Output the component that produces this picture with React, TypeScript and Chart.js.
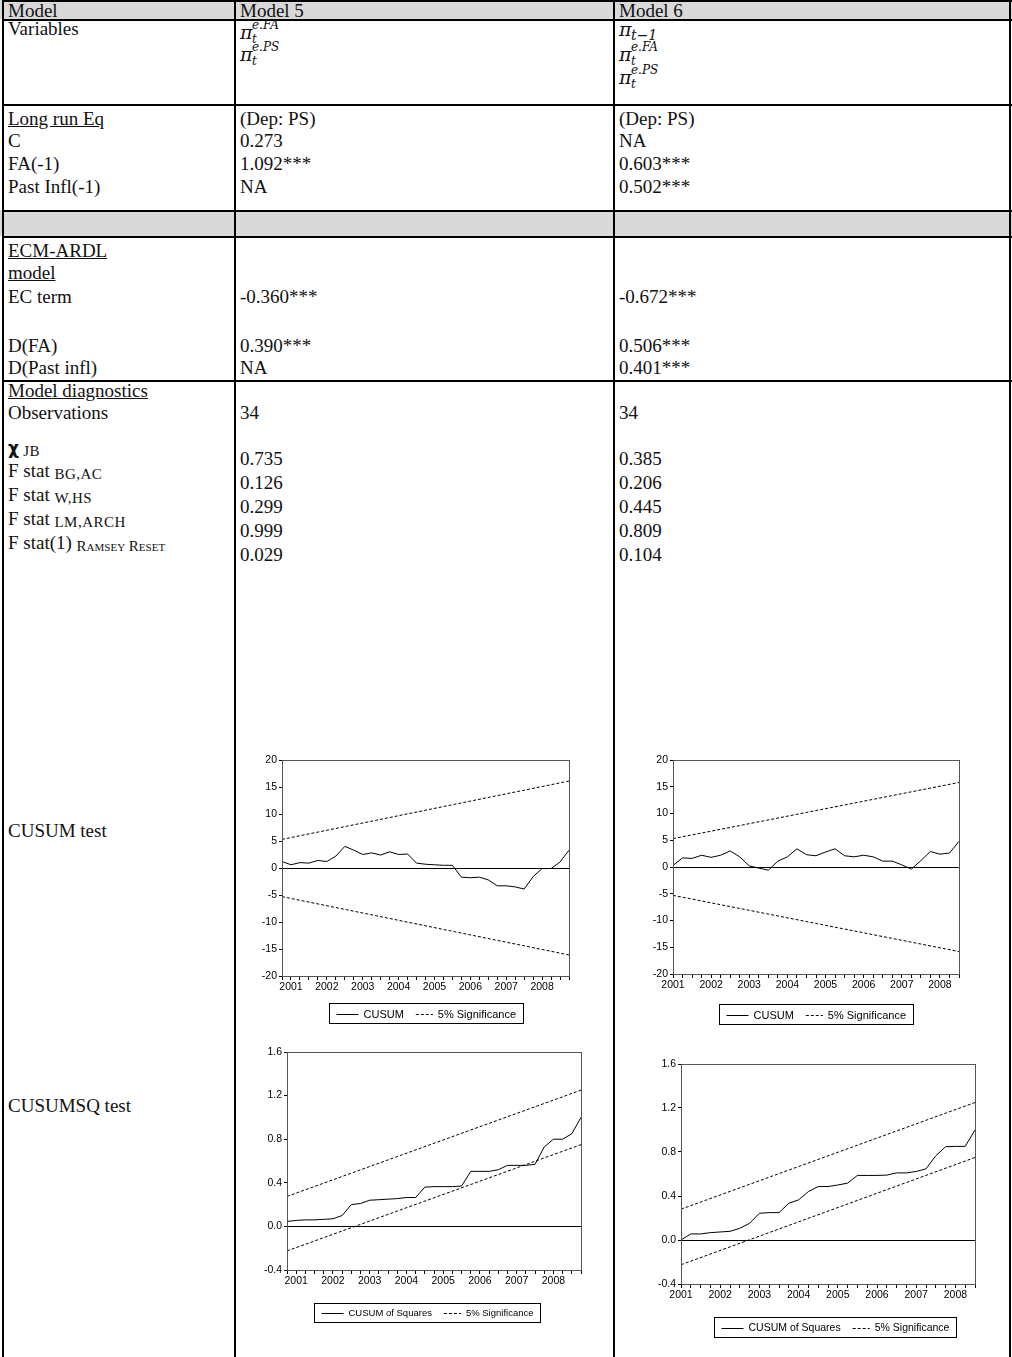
import React, { useEffect, useRef } from 'react';
import { Chart, registerables } from 'chart.js';

Chart.register(...registerables);

// ---------------- table data ----------------
const headerCells = ['Model', 'Model 5', 'Model 6'];
const longRunLabels = ['C', 'FA(-1)', 'Past Infl(-1)'];
const longRunM5 = ['0.273', '1.092***', 'NA'];
const longRunM6 = ['NA', '0.603***', '0.502***'];
const ecmLabels = ['EC term', 'D(FA)', 'D(Past infl)'];
const ecmM5 = ['-0.360***', '0.390***', 'NA'];
const ecmM6 = ['-0.672***', '0.506***', '0.401***'];
const observations = ['34', '34'];
const diagSubs = ['BG,AC', 'W,HS', 'LM,ARCH'];
const diagM5 = ['0.735', '0.126', '0.299', '0.999', '0.029'];
const diagM6 = ['0.385', '0.206', '0.445', '0.809', '0.104'];

// ---------------- chart data ----------------
const quartersM5 = [
  '2000Q4',
  '2001Q1', '2001Q2', '2001Q3', '2001Q4',
  '2002Q1', '2002Q2', '2002Q3', '2002Q4',
  '2003Q1', '2003Q2', '2003Q3', '2003Q4',
  '2004Q1', '2004Q2', '2004Q3', '2004Q4',
  '2005Q1', '2005Q2', '2005Q3', '2005Q4',
  '2006Q1', '2006Q2', '2006Q3', '2006Q4',
  '2007Q1', '2007Q2', '2007Q3', '2007Q4',
  '2008Q1', '2008Q2', '2008Q3', '2008Q4',
];
const quartersM6 = [
  '2001Q1', '2001Q2', '2001Q3', '2001Q4',
  '2002Q1', '2002Q2', '2002Q3', '2002Q4',
  '2003Q1', '2003Q2', '2003Q3', '2003Q4',
  '2004Q1', '2004Q2', '2004Q3', '2004Q4',
  '2005Q1', '2005Q2', '2005Q3', '2005Q4',
  '2006Q1', '2006Q2', '2006Q3', '2006Q4',
  '2007Q1', '2007Q2', '2007Q3', '2007Q4',
  '2008Q1', '2008Q2', '2008Q3',
];

const cusumM5 = [1.2, 0.6, 1.0, 0.9, 1.4, 1.2, 2.2, 4.0, 3.3, 2.5, 2.8, 2.4, 3.0, 2.5, 2.6, 0.9, 0.7,
  0.6, 0.5, 0.5, -1.7, -1.8, -1.7, -2.2, -3.3, -3.3, -3.5, -3.9, -1.6, -0.1, -0.1, 1.1, 3.3];
const cusumM6 = [0.3, 1.7, 1.6, 2.2, 1.8, 2.2, 3.0, 1.9, 0.2, -0.2, -0.6, 1.1, 1.9, 3.4, 2.3, 2.1,
  2.8, 3.4, 2.1, 1.9, 2.2, 1.9, 1.1, 1.1, 0.4, -0.4, 1.2, 2.9, 2.4, 2.6, 4.8];
const cusumBoundM5 = [5.3, 16.1];
const cusumBoundM6 = [5.3, 15.8];

const cusumsqM5 = [0.045, 0.055, 0.06, 0.06, 0.065, 0.07, 0.1, 0.2, 0.21, 0.24, 0.245, 0.25, 0.255,
  0.265, 0.265, 0.36, 0.365, 0.365, 0.365, 0.37, 0.505, 0.505, 0.505, 0.52, 0.56, 0.56, 0.56, 0.57,
  0.73, 0.8, 0.8, 0.85, 1.0];
const cusumsqM6 = [0.0, 0.055, 0.055, 0.067, 0.073, 0.079, 0.106, 0.152, 0.243, 0.249, 0.249, 0.334,
  0.365, 0.44, 0.486, 0.486, 0.5, 0.517, 0.587, 0.587, 0.587, 0.59, 0.61, 0.61, 0.623, 0.647, 0.766,
  0.848, 0.851, 0.851, 1.0];
const sqUpperM5 = [0.275, 1.25];
const sqLowerM5 = [-0.225, 0.75];
const sqUpperM6 = [0.28, 1.25];
const sqLowerM6 = [-0.225, 0.75];

const cusumTicks = [-20, 20, 5];
const cusumsqTicks = [-0.4, 1.6, 0.4];

// ---------------- styles ----------------
const SERIF = '"Liberation Serif", "Times New Roman", serif';
const MATH = '"DejaVu Serif", serif';
const SANS = '"Liberation Sans", Arial, sans-serif';
const GRAY = '#d9d9d9';
const FS = 19;

function Txt({ x, y, size = FS, family = SERIF, children, style }: any) {
  return (
    <div
      style={{
        position: 'absolute',
        left: x,
        top: y - size * 0.6 + 1,
        fontFamily: family,
        fontSize: size,
        lineHeight: `${size * 1.2}px`,
        whiteSpace: 'nowrap',
        color: '#111',
        ...style,
      }}
    >
      {children}
    </div>
  );
}

function PiVar({ x, y, sup, sub, subSize = 12, subDy = 5 }: any) {
  const it = { fontStyle: 'italic' };
  return (
    <>
      <Txt x={x} y={y - 1.5} size={19} family={MATH} style={it}>π</Txt>
      {sup && <Txt x={x + 12} y={y - 9} size={12} family={MATH} style={it}>{sup}</Txt>}
      {sub && <Txt x={x + 12} y={y + subDy} size={subSize} family={MATH} style={it}>{sub}</Txt>}
    </>
  );
}

const Sm = ({ children, sc = false }: any) => (
  <span style={{ fontSize: 15, letterSpacing: sc ? 0 : 0.5, fontVariant: sc ? 'small-caps' : 'normal', position: 'relative', top: 2 }}>
    {children}
  </span>
);

// ---------------- chart plugins ----------------
const framePlugin = {
  id: 'frame',
  afterDraw(chart: any) {
    const { ctx, chartArea: a } = chart;
    ctx.save();
    ctx.strokeStyle = '#555';
    ctx.lineWidth = 1;
    ctx.strokeRect(Math.round(a.left) + 0.5, Math.round(a.top) + 0.5, Math.round(a.right - a.left), Math.round(a.bottom - a.top));
    ctx.restore();
  },
};

const boxLegendPlugin = {
  id: 'boxLegend',
  afterDraw(chart: any, _args: any, opts: any) {
    const { ctx, chartArea } = chart;
    const items = chart.data.datasets.filter((d: any) => !d.skipLegend);
    ctx.save();
    ctx.font = `${opts.size}px ${SANS}`;
    const padX = 7, gapS = 5, gapI = 12, h = Math.round(opts.size + 9);
    const sampleW = (d: any) => (d.borderDash && d.borderDash.length ? 17 : 22);
    let w = padX * 2;
    items.forEach((d: any, i: number) => {
      w += sampleW(d) + gapS + ctx.measureText(d.label).width + (i ? gapI : 0);
    });
    const cx = (chartArea.left + chartArea.right) / 2 + opts.dx;
    const x0 = Math.round(cx - w / 2) + 0.5;
    const y0 = Math.round(chartArea.bottom + opts.axisH + opts.gap) + 0.5;
    ctx.fillStyle = '#fff';
    ctx.fillRect(x0, y0, w, h);
    ctx.strokeStyle = '#000';
    ctx.lineWidth = 1;
    ctx.strokeRect(x0, y0, Math.round(w), h);
    let x = x0 + padX;
    const ym = Math.round(y0 + h / 2) + 0.5;
    items.forEach((d: any, i: number) => {
      if (i) x += gapI;
      ctx.beginPath();
      ctx.setLineDash(d.borderDash || []);
      ctx.moveTo(x, ym);
      ctx.lineTo(x + sampleW(d), ym);
      ctx.stroke();
      ctx.setLineDash([]);
      x += sampleW(d) + gapS;
      ctx.fillStyle = '#000';
      ctx.textBaseline = 'middle';
      ctx.textAlign = 'left';
      ctx.fillText(d.label, x, ym);
      x += ctx.measureText(d.label).width;
    });
    ctx.restore();
  },
};

// ---------------- chart component ----------------
type Spec = {
  left: number; top: number; plotW: number; plotH: number;
  labels: string[]; values: number[]; name: string;
  upper: number[]; lower: number[]; ticks: number[]; decimals: number;
  legendGap: number; legendDx: number; legendSize: number; tickSize: number;
};

const PAD_L = 10, PAD_T = 10, PAD_R = 10, Y_W = 36, X_H = 18, LEG_SPACE = 45;

function EviewsChart({ spec }: { spec: Spec }) {
  const ref = useRef<HTMLCanvasElement>(null);
  const W = PAD_L + Y_W + spec.plotW + PAD_R;
  const H = PAD_T + spec.plotH + X_H + LEG_SPACE;
  useEffect(() => {
    const labels = spec.labels;
    const first = labels[0];
    const last = labels[labels.length - 1];
    const font = { family: SANS, size: spec.tickSize };
    const chart = new Chart(ref.current as HTMLCanvasElement, {
      type: 'line',
      data: {
        labels,
        datasets: [
          { label: spec.name, data: spec.values, borderColor: '#000', borderWidth: 1, pointRadius: 0, tension: 0 } as any,
          { label: '5% Significance', data: [{ x: first, y: spec.upper[0] }, { x: last, y: spec.upper[1] }], borderColor: '#000', borderWidth: 1, borderDash: [3, 2], pointRadius: 0 } as any,
          { label: '5% Significance (lower)', skipLegend: true, data: [{ x: first, y: spec.lower[0] }, { x: last, y: spec.lower[1] }], borderColor: '#000', borderWidth: 1, borderDash: [3, 2], pointRadius: 0 } as any,
        ],
      },
      options: {
        animation: false,
        responsive: false,
        maintainAspectRatio: false,
        events: [],
        layout: { padding: { left: PAD_L, top: PAD_T, right: PAD_R, bottom: LEG_SPACE } },
        plugins: {
          legend: { display: false },
          tooltip: { enabled: false },
          boxLegend: { size: spec.legendSize, gap: spec.legendGap, dx: spec.legendDx, axisH: X_H },
        } as any,
        scales: {
          x: {
            type: 'category',
            offset: false,
            grid: { display: true, drawOnChartArea: false, drawTicks: true, tickLength: 4, tickColor: '#000', color: '#000' },
            border: { display: true, color: '#000' },
            ticks: {
              autoSkip: false, maxRotation: 0, minRotation: 0, padding: 1, font, color: '#000',
              callback: (_v: any, i: number) => (labels[i].endsWith('Q1') ? labels[i].slice(0, 4) : ''),
            },
            afterFit: (s: any) => { s.height = X_H; },
          },
          y: {
            type: 'linear',
            min: spec.ticks[0],
            max: spec.ticks[1],
            ticks: { stepSize: spec.ticks[2], font, color: '#000', padding: 2, callback: (v: any) => Number(v).toFixed(spec.decimals) },
            grid: {
              drawTicks: true, tickLength: 3, tickColor: '#000', lineWidth: 1,
              color: (c: any) => (c.tick && Math.abs(c.tick.value) < 1e-9 ? '#000' : 'rgba(0,0,0,0)'),
            },
            border: { display: true, color: '#000' },
            afterFit: (s: any) => { s.width = Y_W; },
          },
        },
      } as any,
      plugins: [framePlugin, boxLegendPlugin],
    });
    return () => chart.destroy();
  }, []);
  return (
    <canvas
      ref={ref}
      width={W}
      height={H}
      style={{ position: 'absolute', left: spec.left - PAD_L - Y_W, top: spec.top - PAD_T, width: W, height: H }}
    />
  );
}

const specs: Spec[] = [
  { left: 282, top: 760, plotW: 287, plotH: 216, labels: quartersM5, values: cusumM5, name: 'CUSUM',
    upper: cusumBoundM5, lower: cusumBoundM5.map((v) => -v), ticks: cusumTicks, decimals: 0,
    legendGap: 9, legendDx: 0, legendSize: 11, tickSize: 10.5 },
  { left: 673, top: 760, plotW: 286, plotH: 214, labels: quartersM6, values: cusumM6, name: 'CUSUM',
    upper: cusumBoundM6, lower: cusumBoundM6.map((v) => -v), ticks: cusumTicks, decimals: 0,
    legendGap: 12, legendDx: 0, legendSize: 11, tickSize: 10.5 },
  { left: 287, top: 1052, plotW: 294, plotH: 218, labels: quartersM5, values: cusumsqM5, name: 'CUSUM of Squares',
    upper: sqUpperM5, lower: sqLowerM5, ticks: cusumsqTicks, decimals: 1,
    legendGap: 15, legendDx: -7, legendSize: 9.5, tickSize: 10.5 },
  { left: 681, top: 1064, plotW: 294, plotH: 220, labels: quartersM6, values: cusumsqM6, name: 'CUSUM of Squares',
    upper: sqUpperM6, lower: sqLowerM6, ticks: cusumsqTicks, decimals: 1,
    legendGap: 15, legendDx: 7, legendSize: 10.5, tickSize: 10.5 },
];

// ---------------- layout ----------------
const C1 = 8, C2 = 240, C3 = 619;
const vLines = [2, 234, 613, 1009];
const hLines = [0, 19, 104, 210, 236, 380];

export default function App() {
  return (
    <div style={{ position: 'absolute', left: 0, top: 0, width: 1012, height: 1357, background: '#fff', overflow: 'hidden' }}>
      {/* gray rows */}
      <div style={{ position: 'absolute', left: 0, top: 0, width: 1012, height: 19, background: GRAY }} />
      <div style={{ position: 'absolute', left: 0, top: 210, width: 1012, height: 26, background: GRAY }} />
      {/* grid lines */}
      {hLines.map((y) => (
        <div key={'h' + y} style={{ position: 'absolute', left: 2, top: y, width: 1010, height: 2, background: '#000' }} />
      ))}
      {vLines.map((x) => (
        <div key={'v' + x} style={{ position: 'absolute', left: x, top: 0, width: 2, height: 1357, background: '#000' }} />
      ))}

      {/* header */}
      <Txt x={C1} y={10}>{headerCells[0]}</Txt>
      <Txt x={C2} y={10}>{headerCells[1]}</Txt>
      <Txt x={C3} y={10}>{headerCells[2]}</Txt>

      {/* variables */}
      <Txt x={C1} y={28}>Variables</Txt>
      <PiVar x={C2} y={33} sup="e.FA" sub="t" />
      <PiVar x={C2} y={55} sup="e.PS" sub="t" />
      <PiVar x={C3} y={30} sub="t−1" subSize={14} subDy={4} />
      <PiVar x={C3} y={55} sup="e.FA" sub="t" />
      <PiVar x={C3} y={78} sup="e.PS" sub="t" />

      {/* long run */}
      <Txt x={C1} y={118} style={{ textDecoration: 'underline' }}>Long run Eq</Txt>
      <Txt x={C2} y={118}>(Dep: PS)</Txt>
      <Txt x={C3} y={118}>(Dep: PS)</Txt>
      {longRunLabels.map((t, i) => <Txt key={'lr' + i} x={C1} y={140 + i * 23}>{t}</Txt>)}
      {longRunM5.map((t, i) => <Txt key={'lr5' + i} x={C2} y={140 + i * 23}>{t}</Txt>)}
      {longRunM6.map((t, i) => <Txt key={'lr6' + i} x={C3} y={140 + i * 23}>{t}</Txt>)}

      {/* ECM */}
      <Txt x={C1} y={250} style={{ textDecoration: 'underline' }}>ECM-ARDL</Txt>
      <Txt x={C1} y={272} style={{ textDecoration: 'underline' }}>model</Txt>
      {[296, 345, 367].map((y, i) => (
        <React.Fragment key={'ecm' + i}>
          <Txt x={C1} y={y}>{ecmLabels[i]}</Txt>
          <Txt x={C2} y={y}>{ecmM5[i]}</Txt>
          <Txt x={C3} y={y}>{ecmM6[i]}</Txt>
        </React.Fragment>
      ))}

      {/* diagnostics */}
      <Txt x={C1} y={390} style={{ textDecoration: 'underline' }}>Model diagnostics</Txt>
      <Txt x={C1} y={412}>Observations</Txt>
      <Txt x={C2} y={412}>{observations[0]}</Txt>
      <Txt x={C3} y={412}>{observations[1]}</Txt>
      <Txt x={C1} y={447}>
        <span style={{ fontFamily: '"DejaVu Sans", sans-serif', fontWeight: 'bold', fontSize: 17 }}>χ</span>
        <Sm> JB</Sm>
      </Txt>
      {diagSubs.map((s, i) => (
        <Txt key={'ds' + i} x={C1} y={470 + i * 24}>F stat <Sm>{s}</Sm></Txt>
      ))}
      <Txt x={C1} y={542}>F stat(1) <Sm sc>Ramsey Reset</Sm></Txt>
      {diagM5.map((t, i) => <Txt key={'d5' + i} x={C2} y={458 + i * 24}>{t}</Txt>)}
      {diagM6.map((t, i) => <Txt key={'d6' + i} x={C3} y={458 + i * 24}>{t}</Txt>)}

      {/* tests */}
      <Txt x={C1} y={830}>CUSUM test</Txt>
      <Txt x={C1} y={1105}>CUSUMSQ test</Txt>

      {specs.map((s, i) => <EviewsChart key={'c' + i} spec={s} />)}
    </div>
  );
}
